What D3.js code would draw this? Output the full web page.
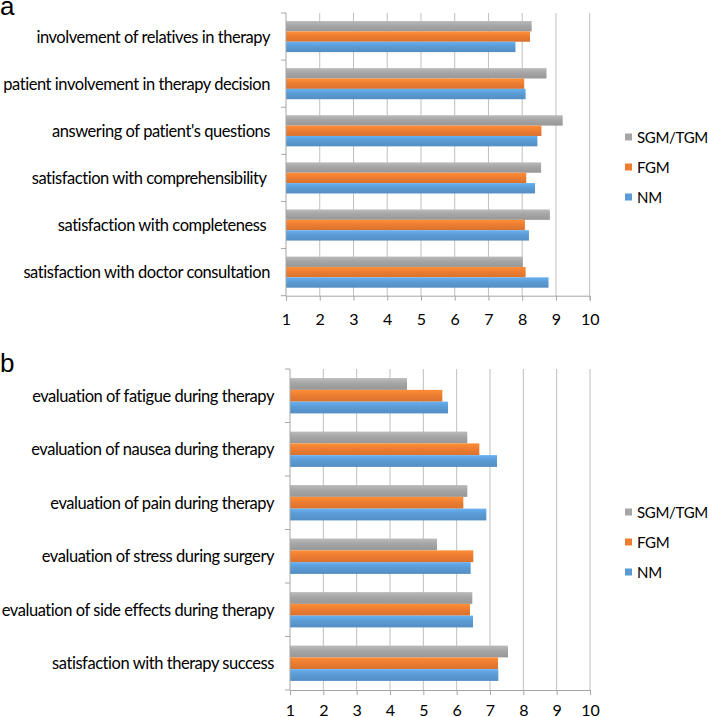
<!DOCTYPE html>
<html>
<head>
<meta charset="utf-8">
<script src="https://cdn.jsdelivr.net/npm/d3@7"></script>
<style>
  body { margin: 0; background: #fff; }
  svg { display: block; }
  text { font-family: Lato, "Open Sans", sans-serif; fill: #000; }
</style>
</head>
<body>
<svg id="chart" width="709" height="717"></svg>
<script>
// series, drawn top to bottom inside each group
const series = ['SGM/TGM', 'FGM', 'NM'];
const colors = ['#a5a5a5', '#ed7d31', '#5b9bd5'];

// panel a
const catsA = [
  'involvement of relatives in therapy',
  'patient involvement in therapy decision',
  "answering of patient's questions",
  'satisfaction with comprehensibility ',
  'satisfaction with completeness ',
  'satisfaction with doctor consultation'
];
const sgmA = [8.28, 8.72, 9.20, 8.56, 8.82, 8.02];
const fgmA = [8.23, 8.06, 8.57, 8.12, 8.08, 8.10];
const nmA  = [7.80, 8.10, 8.45, 8.38, 8.20, 8.78];

// panel b
const catsB = [
  'evaluation of fatigue during therapy',
  'evaluation of nausea during therapy',
  'evaluation of pain during therapy',
  'evaluation of stress during surgery',
  'evaluation of side effects during therapy',
  'satisfaction with therapy success'
];
const sgmB = [4.51, 6.32, 6.32, 5.41, 6.47, 7.54];
const fgmB = [5.57, 6.68, 6.20, 6.50, 6.40, 7.24];
const nmB  = [5.74, 7.21, 6.89, 6.42, 6.49, 7.25];

const xTicks = [1, 2, 3, 4, 5, 6, 7, 8, 9, 10];

const svg = d3.select('#chart');

// subtle vertical shading like the office bars
const defs = svg.append('defs');
colors.forEach((c, i) => {
  const g = defs.append('linearGradient')
    .attr('id', 'grad' + i).attr('x1', 0).attr('y1', 0).attr('x2', 0).attr('y2', 1);
  g.append('stop').attr('offset', '0%').attr('stop-color', d3.color(c).brighter(0.35));
  g.append('stop').attr('offset', '45%').attr('stop-color', c);
  g.append('stop').attr('offset', '100%').attr('stop-color', d3.color(c).darker(0.25));
});

function drawPanel(cfg) {
  const { cats, values, left, right, top, bottom, label, labelY, legendY, tickLabelY } = cfg;
  const g = svg.append('g');

  const x = d3.scaleLinear().domain([1, 10]).range([left, right]);
  const y = d3.scaleBand().domain(cats).range([top, bottom]).padding(0);
  const inner = d3.scaleBand().domain(series)
    .range([y.bandwidth() * 0.17, y.bandwidth() * 0.83]).padding(0);

  // gridlines
  g.selectAll('line.grid').data(xTicks.slice(1)).enter().append('line')
    .attr('x1', d => x(d)).attr('x2', d => x(d))
    .attr('y1', top).attr('y2', bottom)
    .attr('stroke', '#bfbfbf').attr('stroke-width', 1);

  // bars
  series.forEach((s, si) => {
    g.selectAll('rect.s' + si).data(cats).enter().append('rect')
      .attr('x', x(1))
      .attr('y', d => y(d) + inner(s))
      .attr('width', (d, i) => x(values[si][i]) - x(1))
      .attr('height', inner.bandwidth())
      .attr('fill', 'url(#grad' + si + ')');
  });

  // x axis
  const xAxis = d3.axisBottom(x).tickValues(xTicks).tickSize(5).tickPadding(10)
    .tickFormat(d3.format('d'));
  const xa = g.append('g').attr('transform', `translate(0,${bottom})`).call(xAxis);
  xa.select('.domain').attr('stroke', '#a6a6a6');
  xa.selectAll('.tick line').attr('stroke', '#a6a6a6');
  xa.selectAll('.tick text')
    .attr('y', null).attr('dy', null)
    .attr('transform', `translate(0,${tickLabelY - bottom})`)
    .attr('dominant-baseline', 'central')
    .style('font-family', 'Lato, sans-serif')
    .style('font-size', '16px').style('fill', '#000');

  // y axis: ticks at band boundaries
  const bounds = cats.map(c => y(c)).concat([bottom]);
  g.append('line').attr('x1', left).attr('x2', left).attr('y1', top).attr('y2', bottom)
    .attr('stroke', '#a6a6a6');
  g.selectAll('line.ytick').data(bounds).enter().append('line')
    .attr('x1', left - 5).attr('x2', left)
    .attr('y1', d => d).attr('y2', d => d)
    .attr('stroke', '#a6a6a6');
  g.selectAll('text.cat').data(cats).enter().append('text')
    .attr('x', left - 16)
    .attr('y', d => y(d) + y.bandwidth() / 2)
    .attr('text-anchor', 'end')
    .attr('dominant-baseline', 'central')
    .style('white-space', 'pre')
    .style('font-size', '16.5px')
    .style('letter-spacing', '-0.45px')
    .text(d => d);

  // legend
  series.forEach((s, si) => {
    const ly = legendY + si * 30;
    g.append('rect').attr('x', 625).attr('y', ly - 3.5).attr('width', 7).attr('height', 7)
      .attr('fill', colors[si]);
    g.append('text').attr('x', 637).attr('y', ly)
      .attr('dominant-baseline', 'central')
      .style('font-size', '15px')
      .style('letter-spacing', '-0.3px').text(s);
  });

  // panel letter
  svg.append('text').attr('x', 0).attr('y', labelY)
    .style('font-family', '"Liberation Sans", Arial, sans-serif')
    .style('font-size', '26px').text(label);
}

drawPanel({
  cats: catsA, values: [sgmA, fgmA, nmA],
  left: 286, right: 589.7, top: 13, bottom: 295.7,
  label: 'a', labelY: 15, legendY: 137, tickLabelY: 318
});

drawPanel({
  cats: catsB, values: [sgmB, fgmB, nmB],
  left: 290, right: 590, top: 369, bottom: 690,
  label: 'b', labelY: 371.5, legendY: 512, tickLabelY: 709
});
</script>
</body>
</html>
